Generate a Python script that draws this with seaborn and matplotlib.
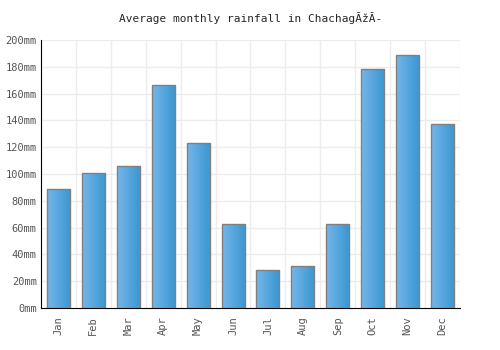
import matplotlib
matplotlib.use("Agg")
import matplotlib.pyplot as plt
import numpy as np
import pandas as pd
import seaborn as sns
from matplotlib.colors import LinearSegmentedColormap

months = ['Jan', 'Feb', 'Mar', 'Apr', 'May', 'Jun', 'Jul', 'Aug', 'Sep', 'Oct', 'Nov', 'Dec']
rainfall = [89, 101, 106, 166, 123, 63, 28, 31, 63, 178, 189, 137]
yticks = [0, 20, 40, 60, 80, 100, 120, 140, 160, 180, 200]

df = pd.DataFrame({'Month': months, 'Rainfall': rainfall})

sns.set_style("white")
plt.rcParams['font.family'] = ['DejaVu Sans Mono']

fig = plt.figure(figsize=(5, 3.5), dpi=100)
ax = fig.add_axes([0.082, 0.12, 0.838, 0.766])

sns.barplot(x='Month', y='Rainfall', data=df, ax=ax, width=0.66,
            color='#55a5dc', edgecolor='#808080', linewidth=1, zorder=3)

# gradient fill inside each bar
grad = LinearSegmentedColormap.from_list('g', ['#74b6ea', '#3a96d0'])
img = np.linspace(0, 1, 64).reshape(1, -1)
for patch in ax.patches:
    x0, y0 = patch.get_x(), patch.get_y()
    w, h = patch.get_width(), patch.get_height()
    im = ax.imshow(img, cmap=grad, aspect='auto', extent=[x0, x0 + w, y0, y0 + h],
                   zorder=3.5, interpolation='bilinear')
    im.set_clip_path(patch)
    patch.set_facecolor('none')
    patch.set_zorder(4)

ax.set_xlim(-0.5, len(months) - 0.5)
ax.set_ylim(0, 200)
ax.set_yticks(yticks)
ax.set_yticklabels([f'{v}mm' for v in yticks])
ax.set_xticks(range(len(months)))
ax.set_xticklabels(months, rotation=90)

# grid: horizontal lines at ticks, vertical lines at category boundaries
for v in yticks[1:]:
    ax.axhline(v, color='#ececec', lw=1, zorder=1)
for b in np.arange(0.5, len(months), 1.0):
    ax.axvline(b, color='#ececec', lw=1, zorder=1)

ax.set_xlabel('')
ax.set_ylabel('')
ax.set_title('Average monthly rainfall in ChachagĂžĂ-', fontsize=8, pad=13)
ax.tick_params(axis='both', labelsize=7.5, colors='#555555', length=0)
ax.tick_params(axis='y', pad=3)
ax.tick_params(axis='x', pad=6)
for s in ['top', 'right']:
    ax.spines[s].set_visible(False)
ax.spines['left'].set_color('black')
ax.spines['bottom'].set_color('black')

fig.savefig('out.png', dpi=100)
